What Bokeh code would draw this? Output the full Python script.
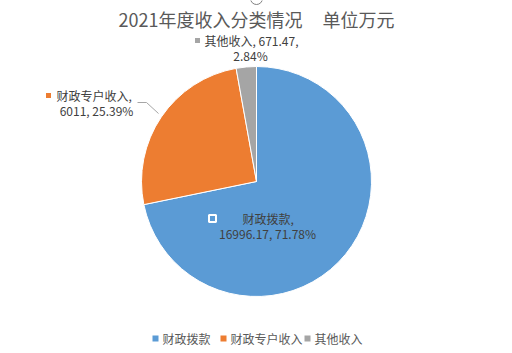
import math
from bokeh.plotting import figure
from bokeh.models import Range1d
from bokeh.core.properties import value
from bokeh.embed import file_html
from bokeh.resources import INLINE

categories = ["财政拨款", "财政专户收入", "其他收入"]
values = [16996.17, 6011, 671.47]
percents = ["71.78%", "25.39%", "2.84%"]
colors = ["#5B9BD5", "#ED7D31", "#A5A5A5"]
title_text = "2021年度收入分类情况\u00a0\u00a0\u00a0\u00a0\u00a0单位万元"

W, H = 512, 353
FONT = "Noto Sans CJK SC"

def Y(py):
    return H - py

p = figure(width=W, height=H, output_backend="svg", toolbar_location=None,
           x_range=Range1d(0, W), y_range=Range1d(0, H), min_border=0)
p.axis.visible = False
p.grid.visible = False
p.outline_line_color = None
p.background_fill_color = "white"

# small partial circle at top edge
p.circle(x=[256], y=[Y(-2)], radius=6, fill_color=None, line_color="#7f7f7f", line_width=1)

# pie
total = sum(values)
cx, cy, r = 256, Y(181), 115
cum = 0.0
starts, ends = [], []
for v in values:
    starts.append(math.pi / 2 - cum / total * 2 * math.pi)
    cum += v
    ends.append(math.pi / 2 - cum / total * 2 * math.pi)
p.wedge(x=[cx] * 3, y=[cy] * 3, radius=r, start_angle=starts, end_angle=ends,
        direction="clock", fill_color=colors, line_color="white", line_width=1)

# title
p.text(x=[256], y=[Y(18)], text=[title_text], text_font=value(FONT), text_font_size="18px",
       text_color="#595959", text_align="center", text_baseline="middle")

# leader line for orange label
p.line(x=[137, 146, 158], y=[Y(102), Y(102), Y(113)], line_color="#A6A6A6", line_width=1)

lab_color = "#404040"
# gray label
p.scatter(x=[197], y=[Y(40)], marker="square", size=5, fill_color=colors[2], line_color=None)
p.text(x=[204], y=[Y(40)], text=[f"{categories[2]}, {values[2]},"], text_font=value(FONT),
       text_font_size="12px", text_color=lab_color, text_align="left", text_baseline="middle")
p.text(x=[250], y=[Y(55)], text=[percents[2]], text_font=value(FONT),
       text_font_size="12px", text_color=lab_color, text_align="center", text_baseline="middle")

# orange label
p.scatter(x=[48], y=[Y(95)], marker="square", size=5, fill_color=colors[1], line_color=None)
p.text(x=[56], y=[Y(95)], text=[f"{categories[1]},"], text_font=value(FONT),
       text_font_size="12px", text_color=lab_color, text_align="left", text_baseline="middle")
p.text(x=[96], y=[Y(110)], text=[f"{values[1]}, {percents[1]}"], text_font=value(FONT),
       text_font_size="12px", text_color=lab_color, text_align="center", text_baseline="middle")

# blue label
p.scatter(x=[212], y=[Y(218)], marker="square", size=7, fill_color=colors[0], line_color="white", line_width=2)
p.text(x=[242], y=[Y(218)], text=[f"{categories[0]},"], text_font=value(FONT),
       text_font_size="12px", text_color=lab_color, text_align="left", text_baseline="middle")
p.text(x=[267], y=[Y(233)], text=[f"{values[0]}, {percents[0]}"], text_font=value(FONT),
       text_font_size="12px", text_color=lab_color, text_align="center", text_baseline="middle")

# legend
leg_x = [155, 223, 307]
p.scatter(x=leg_x, y=[Y(338)] * 3, marker="square", size=6, fill_color=colors, line_color=None)
p.text(x=[x + 7 for x in leg_x], y=[Y(338)] * 3, text=categories, text_font=value(FONT),
       text_font_size="12px", text_color="#595959", text_align="left", text_baseline="middle")

open("out.html", "w").write(file_html(p, INLINE))
